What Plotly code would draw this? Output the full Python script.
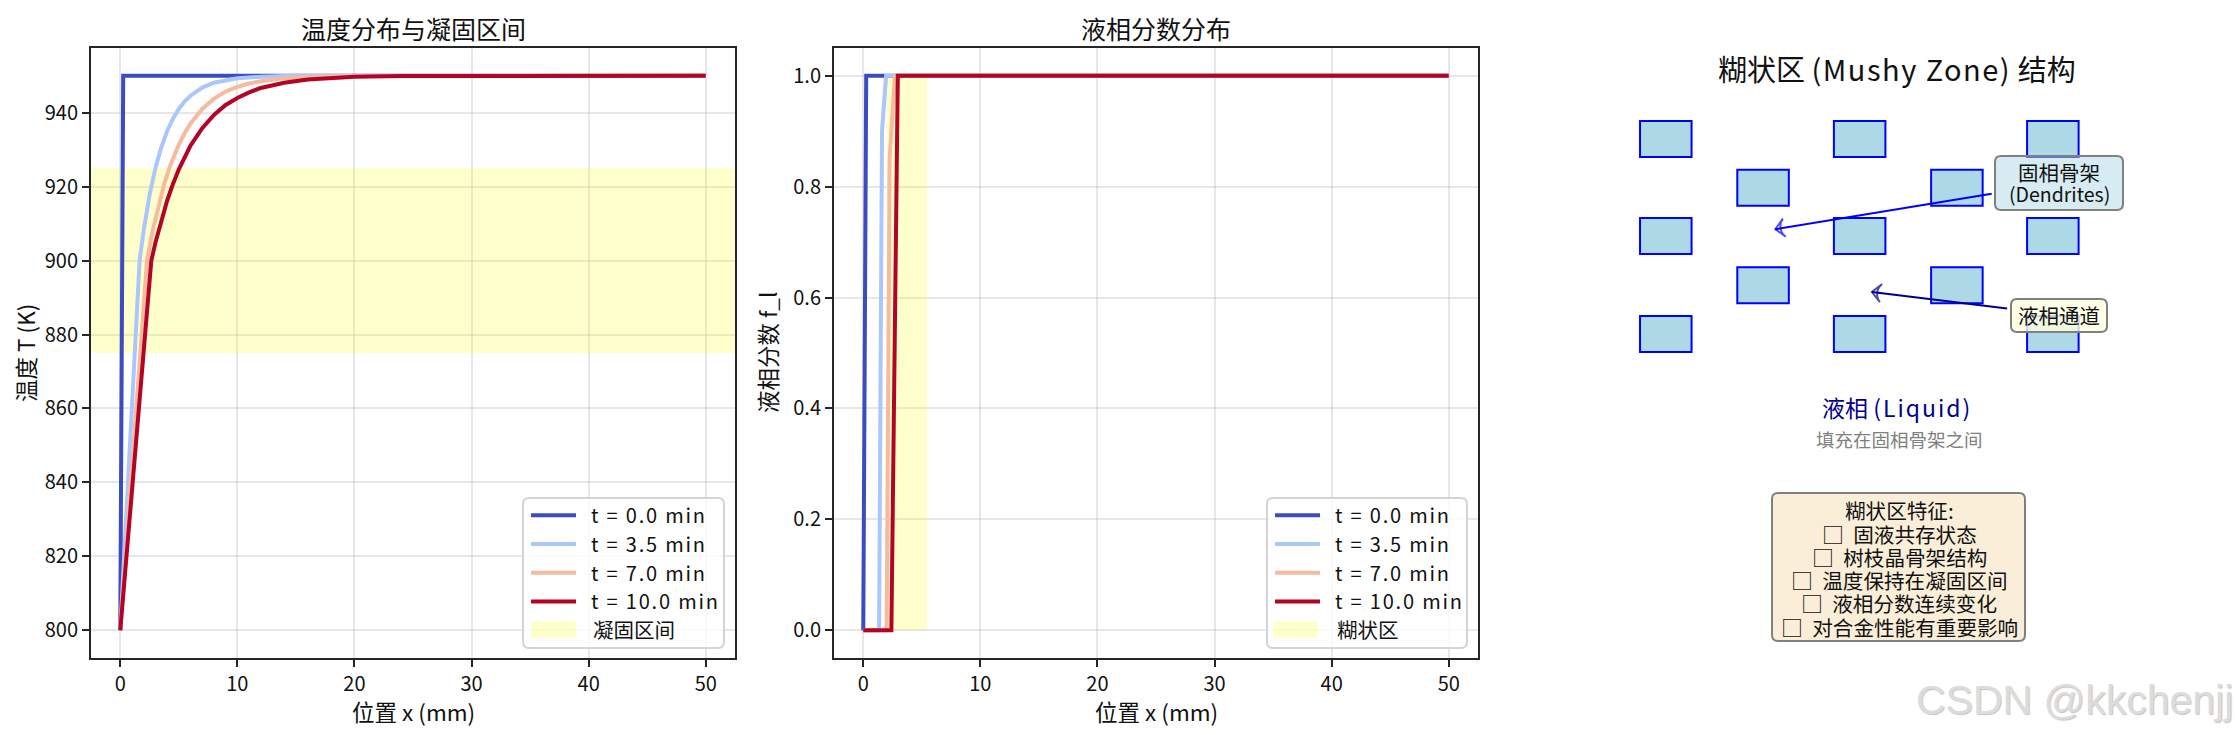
import plotly.graph_objects as go

W, H = 2235, 735
CJK = "Noto Sans CJK SC"

# ── DATA ──────────────────────────────────────────────────────
labels = ['t = 0.0 min', 't = 3.5 min', 't = 7.0 min', 't = 10.0 min']
colors = ['#3b4cc0', '#aac7fd', '#f7ba9f', '#b40426']

x_t0 = [0, 0.25, 50]
T_t0 = [800, 950, 950]
x_t1 = [0, 1.65, 2, 2.5, 3, 3.5, 4, 4.5, 5, 5.5, 6, 7, 8, 9, 10, 12, 14, 50]
T_t1 = [800, 900, 908.2, 917.7, 925, 930.6, 935, 938.4, 941, 943.1, 944.6, 946.8, 948.1, 948.8, 949.3, 949.75, 949.9, 950]
x_t2 = [0, 2.28, 2.75, 3.25, 3.75, 4.25, 5, 5.5, 6, 7, 8, 9, 10, 11, 12, 14, 16, 18, 50]
T_t2 = [800, 900, 907.9, 914.9, 920.7, 925.6, 931.4, 934.5, 937.1, 941, 943.8, 945.7, 947, 947.9, 948.5, 949.3, 949.66, 949.84, 950]
x_t3 = [0, 2.65, 3, 3.5, 4, 4.5, 5, 6, 7, 8, 9, 10, 11, 12, 14, 16, 18, 20, 24, 50]
T_t3 = [800, 900, 904.8, 910.9, 916.2, 920.7, 924.7, 931.1, 935.8, 939.4, 942.1, 944, 945.5, 946.7, 948.1, 949, 949.4, 949.7, 949.9, 950]

fx_t0 = [0, 0.25, 50]
fl_t0 = [0, 1, 1]
fx_t1 = [0, 1.35, 1.6, 1.95, 50]
fl_t1 = [0, 0, 0.9, 1, 1]
fx_t2 = [0, 2.0, 2.25, 2.7, 50]
fl_t2 = [0, 0, 0.85, 1, 1]
fx_t3 = [0, 2.4, 2.95, 50]
fl_t3 = [0, 0, 1, 1]

solid_T = 875
liquid_T = 925
mushy_x0 = 2.0
mushy_x1 = 5.45

# dendrite blocks of the schematic (third panel)
row_y = [8.51, 7.71, 6.92, 6.11, 5.31]
col_x = [1.41, 2.92, 4.42, 5.93, 7.42]

features = ['糊状区特征:', '□ 固液共存状态', '□ 树枝晶骨架结构', '□ 温度保持在凝固区间',
            '□ 液相分数连续变化', '□ 对合金性能有重要影响']


def fx(v):
    return v / W


def fy(v):
    return 1 - v / H


def spaced(s, sp):
    return f'<span style="letter-spacing:{sp}px">{s}</span>'


def pad(n):
    # blank gap of n px in front of a legend text
    return f'<span style="font-size:{n}px">\u3000</span>'


def round_box(x0, y0, x1, y1, fill, line, r=6):
    # rounded rectangle, pixel positions to paper coords
    rx, ry = r / W, r / H
    a, b, c, d = fx(x0), fx(x1), fy(y0), fy(y1)
    path = (f'M{a + rx},{c} L{b - rx},{c} Q{b},{c} {b},{c - ry} L{b},{d + ry} Q{b},{d} {b - rx},{d} '
            f'L{a + rx},{d} Q{a},{d} {a},{d + ry} L{a},{c - ry} Q{a},{c} {a + rx},{c} Z')
    return dict(type='path', path=path, xref='paper', yref='paper', fillcolor=fill,
                line=dict(color=line, width=2), layer='above')


def legend_name(s):
    return pad(10) + f'<span style="letter-spacing:1.8px;font-size:20px">{s}</span>'


fig = go.Figure()

# ── 1. TEMPERATURE ────────────────────────────────────────────
fig.add_trace(go.Scatter(x=[-2.5, 52.5, 52.5, -2.5], y=[solid_T, solid_T, liquid_T, liquid_T],
                         fill='toself', fillcolor='rgba(255,255,0,0.2)', mode='lines',
                         line=dict(width=0), showlegend=False, xaxis='x', yaxis='y'))
for xs, ys, name, c in zip([x_t0, x_t1, x_t2, x_t3], [T_t0, T_t1, T_t2, T_t3], labels, colors):
    fig.add_trace(go.Scatter(x=xs, y=ys, mode='lines', name=legend_name(name),
                             line=dict(color=c, width=4), xaxis='x', yaxis='y', legend='legend'))
fig.add_trace(go.Scatter(x=[None], y=[None], mode='lines', name=pad(12) + '<span style="font-size:20.5px">凝固区间</span>',
                         line=dict(color='rgba(0,0,0,0)', width=0), xaxis='x', yaxis='y', legend='legend'))

# ── 2. LIQUID FRACTION ────────────────────────────────────────
fig.add_trace(go.Scatter(x=[mushy_x0, mushy_x1, mushy_x1, mushy_x0], y=[0, 0, 1, 1],
                         fill='toself', fillcolor='rgba(255,255,0,0.2)', mode='lines',
                         line=dict(width=0), showlegend=False, xaxis='x2', yaxis='y2'))
for xs, ys, name, c in zip([fx_t0, fx_t1, fx_t2, fx_t3], [fl_t0, fl_t1, fl_t2, fl_t3], labels, colors):
    fig.add_trace(go.Scatter(x=xs, y=ys, mode='lines', name=legend_name(name),
                             line=dict(color=c, width=4), xaxis='x2', yaxis='y2', legend='legend2'))
fig.add_trace(go.Scatter(x=[None], y=[None], mode='lines', name=pad(12) + '<span style="font-size:20.5px">糊状区</span>',
                         line=dict(color='rgba(0,0,0,0)', width=0), xaxis='x2', yaxis='y2', legend='legend2'))

# ── 3. MUSHY ZONE SCHEMATIC ───────────────────────────────────
shapes = []
for i, yc in enumerate(row_y):
    for j, xc in enumerate(col_x):
        if (i + j) % 2 == 0:
            shapes.append(dict(type='rect', xref='x3', yref='y3', x0=xc - 0.4, x1=xc + 0.4,
                               y0=yc - 0.295, y1=yc + 0.295, fillcolor='#add8e6',
                               line=dict(color='blue', width=2), layer='below'))

for xs, ys, c in [([6.47, 3.11], [7.61, 7.03], 'blue'), ([6.71, 4.61], [5.73, 6.0], '#00008b')]:
    fig.add_trace(go.Scatter(x=xs, y=ys, mode='lines+markers', showlegend=False, xaxis='x3', yaxis='y3',
                             line=dict(color=c, width=2),
                             marker=dict(symbol='arrow-wide-open', size=[0, 13], angleref='previous', color=c,
                                         line=dict(color=c, width=2))))

# rounded boxes
shapes += [
    round_box(523, 498, 724, 648, 'rgba(255,255,255,0.8)', '#d4d4d4'),
    round_box(1267, 498, 1467, 648, 'rgba(255,255,255,0.8)', '#d4d4d4'),
    round_box(1995, 156, 2123, 210, 'rgba(173,216,230,0.5)', '#808080'),
    round_box(2011, 299, 2107, 332, 'rgba(255,255,224,0.8)', '#808080'),
    round_box(1772, 493, 2025, 641, 'rgba(245,222,179,0.5)', '#808080'),
]
# legend patches
for x0, x1 in [(532, 575), (1274, 1317)]:
    shapes.append(dict(type='rect', xref='paper', yref='paper', x0=fx(x0), x1=fx(x1), y0=fy(637), y1=fy(622),
                       fillcolor='rgba(255,255,0,0.2)', line=dict(color='rgba(255,255,0,0.2)', width=1),
                       layer='above'))

# ── TEXT ──────────────────────────────────────────────────────
texts = [
    ('温度分布与凝固区间', 413, 28, 25, '#111111', 0),
    ('液相分数分布', 1156, 28, 25, '#111111', 0),
    ('位置 x (mm)', 413, 711, 22.5, '#111111', 0),
    ('位置 x (mm)', 1156, 711, 22.5, '#111111', 0),
    ('温度 T (K)', 25, 353, 22.5, '#111111', -90),
    ('液相分数 f_l', 767, 353, 22.5, '#111111', -90),
    ('糊状区 ' + spaced('(Mushy Zone)', 1.5) + ' 结构', 1897, 68, 29, '#111111', 0),
    ('固相骨架', 2059, 172, 20.5, '#111111', 0),
    ('(Dendrites)', 2059, 193, 19.5, '#111111', 0),
    ('液相通道', 2059, 315, 20.5, '#111111', 0),
    ('液相 ' + spaced('(Liquid)', 2), 1897, 407, 23, '#00008b', 0),
    ('填充在固相骨架之间', 1899, 439, 18.5, '#808080', 0),
]
for line, yc in zip(features, [510, 533, 556, 579, 602, 625.5]):
    line = line.replace('□ ', '<span style="font-size:22px">□</span>\u00a0\u00a0')
    texts.append((line, 1899, yc, 20.6, '#111111', 0))

annotations = [dict(text=t, x=fx(px), y=fy(py), xref='paper', yref='paper', showarrow=False,
                    xanchor='center', yanchor='middle', textangle=ang,
                    font=dict(family=CJK, size=size, color=col))
               for t, px, py, size, col, ang in texts]
annotations.append(dict(text='CSDN @kkchenjj', x=1, y=fy(700), xref='paper', yref='paper', showarrow=False,
                        xanchor='right', yanchor='middle',
                        font=dict(family='Liberation Sans', size=41, color='#dcdcdc',
                                  shadow='1px 1px 1px #c4c4c4')))

axis_style = dict(showgrid=True, gridcolor='rgba(176,176,176,0.3)', gridwidth=1.7, zeroline=False,
                  showline=True, linecolor='#262626', linewidth=2, mirror=True,
                  ticks='outside', ticklen=7, tickwidth=1.7, tickcolor='#262626',
                  tickfont=dict(family=CJK, size=20, color='#111111'))
legend_style = dict(bgcolor='rgba(0,0,0,0)', borderwidth=0, itemwidth=45, xanchor='left', yanchor='top',
                    font=dict(family=CJK, size=19.8, color='#111111'), traceorder='normal')

fig.update_layout(
    width=W, height=H, margin=dict(l=0, r=0, t=0, b=0),
    paper_bgcolor='white', plot_bgcolor='white', font=dict(family=CJK),
    xaxis=dict(domain=[fx(91), fx(735)], range=[-2.5, 52.5], dtick=10, tick0=0, anchor='y', **axis_style),
    yaxis=dict(domain=[fy(658), fy(48)], range=[792.5, 957.5], dtick=20, tick0=800, anchor='x', **axis_style),
    xaxis2=dict(domain=[fx(834), fx(1478)], range=[-2.5, 52.5], dtick=10, tick0=0, anchor='y2', **axis_style),
    yaxis2=dict(domain=[fy(658), fy(48)], range=[-0.05, 1.05], dtick=0.2, tick0=0, tickformat='.1f', anchor='x2', **axis_style),
    xaxis3=dict(domain=[fx(1575), fx(2219)], range=[0, 10], visible=False, anchor='y3'),
    yaxis3=dict(domain=[fy(658), fy(48)], range=[0, 10], visible=False, anchor='x3'),
    legend=dict(x=fx(526), y=fy(496), **legend_style),
    legend2=dict(x=fx(1270), y=fy(496), **legend_style),
    shapes=shapes, annotations=annotations,
)

fig.write_html("out.html", config={'displayModeBar': False}, post_script="document.body.style.margin='0';")
